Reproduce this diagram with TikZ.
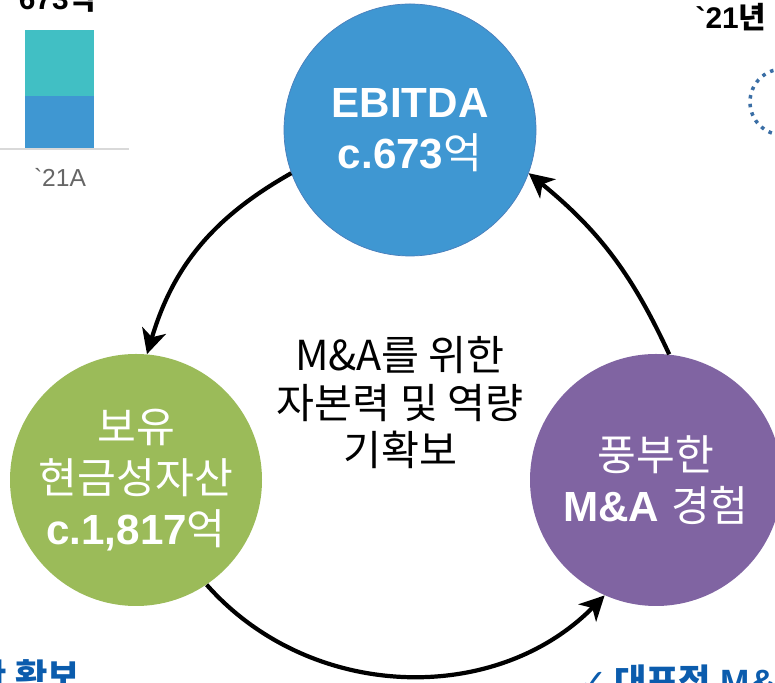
\documentclass[tikz,border=0pt]{standalone}
\usepackage{fontspec}
\setmainfont{Liberation Sans}
\newfontfamily\rawsans{Liberation Sans}
\newfontfamily\kr{Noto Sans CJK KR}
\newfontfamily\symfont{DejaVu Sans}
\usetikzlibrary{arrows.meta}
\definecolor{ebitdablue}{HTML}{3F97D2}
\definecolor{ebitdaline}{HTML}{4A7EBB}
\definecolor{cashgreen}{HTML}{9BBB59}
\definecolor{dealpurple}{HTML}{8064A2}
\definecolor{barteal}{HTML}{41BFC4}
\definecolor{axisgray}{HTML}{D9D9D9}
\definecolor{labelgray}{HTML}{666666}
\definecolor{dotblue}{HTML}{3A6EA5}
\definecolor{noteblue}{HTML}{0B5CAD}
\newcommand{\hg}[1]{{\kr\mdseries #1}}
\newcommand{\tick}{{\rawsans\symbol{96}}}
\begin{document}
\begin{tikzpicture}
        % Styles
        \tikzstyle{bubble} = [circle, minimum size=5.04cm, inner sep=0pt,
                              text=white, align=center,
                              font=\fontsize{24}{29}\selectfont\bfseries]
        \tikzstyle{flow} = [-{Stealth[length=14pt,width=14pt,inset=4pt]}, line width=2.4pt]

        \useasboundingbox (0,0) rectangle (15.5,13.66);
        \clip (0,0) rectangle (15.5,13.66);

        % ==== Cut-off pieces at the edges ====
        \fill[barteal]    (0.5,11.74) rectangle (1.88,13.06);
        \fill[ebitdablue] (0.5,10.68) rectangle (1.88,11.74);
        \draw[axisgray, line width=1pt] (0,10.68) -- (2.58,10.68);
        \node[anchor=base, font=\fontsize{17}{20}\selectfont\bfseries] (bartotal) at (1.15,13.46) {673{\kr 억}};
        \node[text=labelgray, font=\fontsize{14}{17}\selectfont] (baryear) at (1.2,10.12) {\tick 21A};
        \node[anchor=base, font=\fontsize{17}{20}\selectfont\bfseries] (yearlabel) at (14.62,13.08) {\tick 21{\kr 년}};
        \draw[dotblue, line width=2pt, dash pattern=on 2pt off 3pt] (15.66,11.62) circle (0.66);
        \node[anchor=base east, text=noteblue, font=\fontsize{20}{24}\selectfont\bfseries] (noteleft) at (1.72,-0.14) {\kr 자산 확보};
        \node[anchor=base west, text=noteblue, font=\fontsize{20}{24}\selectfont\bfseries] (noteright) at (11.45,-0.24) {{\symfont ✓}\,{\kr 대표적} M\&A};

        % ==== Nodes ====
        \node[bubble, fill=ebitdablue, draw=ebitdaline, thin] (ebitda) at (8.2,11.06) {EBITDA\\c.673\hg{억}};
        \node[bubble, fill=cashgreen] (cash)  at (2.72,4.06)  {\hg{보유}\\\hg{현금성자산}\\c.1,817\hg{억}};
        \node[bubble, fill=dealpurple] (deals) at (13.12,4.06) {\hg{풍부한}\\M\&A \hg{경험}};
        \node[align=center, font=\kr\fontsize{23.5}{27}\selectfont] (core) at (8.0,5.6) {M\&A를 위한\\자본력 및 역량\\기확보};

        % ==== Arrows ====
        \draw[flow] (ebitda.200) to[bend right=22] (cash.85);
        \draw[flow] (cash.304) to[bend right=47] (deals.246);
        \draw[flow] (deals.84) to[bend right=13] (ebitda.340);
    \end{tikzpicture}
\end{document}
